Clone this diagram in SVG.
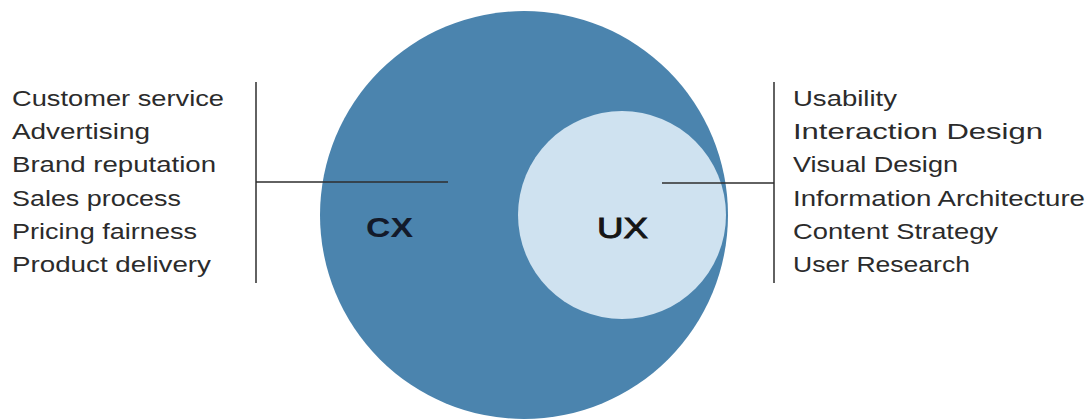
<svg xmlns="http://www.w3.org/2000/svg" width="1092" height="419" viewBox="0 0 1092 419">
<style>
.item{font-family:"Liberation Sans",Arial,sans-serif;font-size:22.5px;fill:#2b2b2b}
.lbl{font-family:"Liberation Sans",Arial,sans-serif;font-size:28px;font-weight:bold;fill:#131a2a}
.lbl2{font-family:"Liberation Sans",Arial,sans-serif;font-size:29px;fill:#151515;stroke:#151515;stroke-width:0.9}
.ln{stroke:#2e2e2e;stroke-width:1.5;fill:none}
</style>
<rect width="1092" height="419" fill="#ffffff"/>
<g id="cx">
<circle cx="524" cy="215" r="204" fill="#4b84ae"/>
<text class="lbl" x="366" y="237" textLength="47" lengthAdjust="spacingAndGlyphs">CX</text>
</g>
<g id="ux">
<circle cx="622" cy="215" r="104" fill="#cfe2f0"/>
<text class="lbl2" x="597" y="238" textLength="51" lengthAdjust="spacingAndGlyphs">UX</text>
</g>
<g id="connectors">
<line class="ln" x1="256" y1="82" x2="256" y2="283"/>
<line class="ln" x1="256" y1="182" x2="448" y2="182"/>
<line class="ln" x1="774" y1="82" x2="774" y2="283"/>
<line class="ln" x1="662" y1="183" x2="774" y2="183"/>
</g>
<g id="cx-list">
<text class="item" x="12" y="106" textLength="212" lengthAdjust="spacingAndGlyphs">Customer service</text>
<text class="item" x="12" y="139" textLength="138" lengthAdjust="spacingAndGlyphs">Advertising</text>
<text class="item" x="12" y="172" textLength="204" lengthAdjust="spacingAndGlyphs">Brand reputation</text>
<text class="item" x="12" y="206" textLength="169" lengthAdjust="spacingAndGlyphs">Sales process</text>
<text class="item" x="12" y="239" textLength="185" lengthAdjust="spacingAndGlyphs">Pricing fairness</text>
<text class="item" x="12" y="272" textLength="199" lengthAdjust="spacingAndGlyphs">Product delivery</text>
</g>
<g id="ux-list">
<text class="item" x="793" y="106" textLength="104" lengthAdjust="spacingAndGlyphs">Usability</text>
<text class="item" x="793" y="139" textLength="250" lengthAdjust="spacingAndGlyphs">Interaction Design</text>
<text class="item" x="793" y="172" textLength="165" lengthAdjust="spacingAndGlyphs">Visual Design</text>
<text class="item" x="793" y="206" textLength="292" lengthAdjust="spacingAndGlyphs">Information Architecture</text>
<text class="item" x="793" y="239" textLength="205" lengthAdjust="spacingAndGlyphs">Content Strategy</text>
<text class="item" x="793" y="272" textLength="177" lengthAdjust="spacingAndGlyphs">User Research</text>
</g>
</svg>
